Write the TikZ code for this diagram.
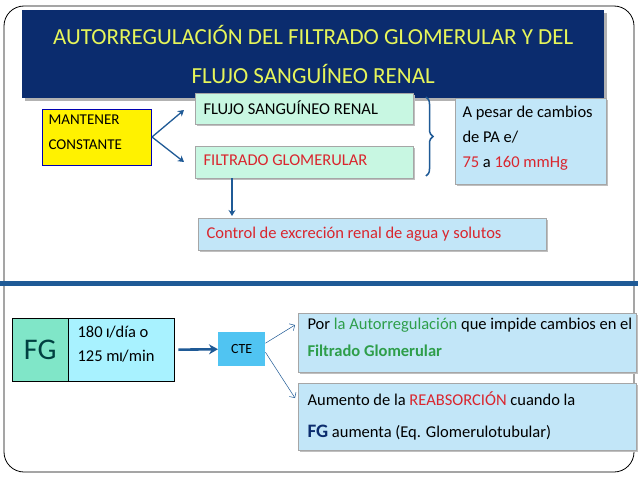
\documentclass[tikz,border=0pt]{standalone}
\usepackage{fontspec}
\setmainfont{Carlito}
\usetikzlibrary{arrows.meta,decorations.pathreplacing}
\definecolor{navy}{HTML}{0B2C6E}
\definecolor{ttl}{HTML}{E6F55A}
\definecolor{lgreen}{HTML}{C8F7E2}
\definecolor{lblue}{HTML}{C2E6F8}
\definecolor{dblue}{HTML}{1F5A96}
\definecolor{rd}{HTML}{D9262E}
\definecolor{gr}{HTML}{2E9E4A}
\definecolor{fgl}{HTML}{80E6C8}
\definecolor{fgr}{HTML}{A8F2FF}
\definecolor{ctec}{HTML}{50C4F2}
\tikzset{
  box/.style={draw=gray!70,anchor=north west,inner sep=0pt},
  arr/.style={-{Stealth[length=6pt,width=7pt]},dblue,line width=1.3pt},
  thin/.style={-{Straight Barb[length=4pt]},dblue,line width=0.5pt},
  txt/.style={anchor=north west,align=left,font=\fontsize{16.5}{#1}\selectfont},
}
\begin{document}
\begin{tikzpicture}[x=1pt,y=-1pt]
\useasboundingbox (0,0) rectangle (638,479);
\fill[white] (0,0) rectangle (638,479);
\draw[black,line width=0.8pt,rounded corners=20pt] (4,6) rectangle (634,472);
\fill[dblue] (0,281) rectangle (638,286);
% title
\fill[gray!60] (25,13) rectangle (607,101);
\node[fill=navy,minimum width=582pt,minimum height=88pt,anchor=north west,inner sep=0pt] (title) at (22,10) {};
\node[text=ttl,font=\fontsize{23}{39}\selectfont,align=center] at (title) {AUTORREGULACIÓN DEL FILTRADO GLOMERULAR Y DEL\\FLUJO SANGUÍNEO RENAL};
% top
\node[box,draw=blue!70!black,line width=0.8pt,fill=yellow,minimum width=109pt,minimum height=56pt] (mc) at (42,109) {};
\node[txt=25,font=\fontsize{15}{25}\selectfont] at (45,111) {MANTENER\\CONSTANTE};
\fill[gray!50] (197,95) rectangle (415,126);
\node[box,fill=lgreen,minimum width=218pt,minimum height=31pt] (fsr) at (195,93) {};
\node[txt=18] at (200,97) {FLUJO SANGUÍNEO RENAL};
\fill[gray!50] (197,148) rectangle (415,180);
\node[box,fill=lgreen,minimum width=218pt,minimum height=32pt] (fg) at (195,146) {};
\node[txt=18,text=rd] at (200,151) {FILTRADO GLOMERULAR};
\draw[dblue,line width=1.5pt,decorate,decoration={brace,amplitude=7pt}] (426,97) -- (426,176);
\fill[gray!50] (457,100) rectangle (608,186);
\node[box,fill=lblue,minimum width=151pt,minimum height=86pt] (ap) at (455,98) {};
\node[txt=25] at (459,103) {A pesar de cambios\\de PA e/\\\textcolor{rd}{75} a \textcolor{rd}{160 mmHg}};
\fill[gray!50] (200,220) rectangle (548,252);
\node[box,fill=lblue,minimum width=348pt,minimum height=32pt] (ce) at (198,218) {};
\node[txt=18,text=rd] at (203,224) {Control de excreción renal de agua y solutos};
\coordinate (mcr) at (152,137);
\draw[arr] (mcr) -- (184,110);
\draw[arr] (mcr) -- (184,162);
\draw[arr] (232,178) -- (232,216);
% bottom
\node[draw=black,fill=fgr,minimum width=106pt,minimum height=63pt,anchor=north west,inner sep=0pt] (val) at (68,318) {};
\node[draw=black,fill=fgl,minimum width=56pt,minimum height=63pt,anchor=north west,inner sep=0pt,text=teal!50!black,font=\fontsize{30}{30}\selectfont] (fgb) at (12,318) {FG};
\node[txt=24] at (74,323) {180 \textbf{\large l}/día o\\125 m\textbf{\large l}/min};
\node[fill=ctec,minimum width=47pt,minimum height=34pt,inner sep=0pt,anchor=north west,font=\fontsize{14}{14}\selectfont] (cte) at (218,332) {CTE};
\draw[-{Stealth[length=9pt,width=10pt]},dblue,line width=2.6pt] (val.east) ++(4,0) -- (cte.west);
\fill[gray!50] (300,315) rectangle (638,374);
\node[box,fill=lblue,minimum width=338pt,minimum height=59pt] (b1) at (298,313) {};
\node[txt=27] at (304,315) {Por \textcolor{gr}{la Autorregulación} que impide cambios en el\\\textcolor{gr}{\textbf{Filtrado Glomerular}}};
\fill[gray!50] (300,385) rectangle (638,452);
\node[box,fill=lblue,minimum width=338pt,minimum height=67pt] (b2) at (298,383) {};
\node[txt=32] at (304,388) {Aumento de la \textcolor{rd}{REABSORCIÓN} cuando la\\ \textcolor{navy}{\textbf{\fontsize{19}{19}\selectfont FG}} aumenta (Eq. Glomerulotubular)};
\draw[thin] (cte.east) ++(0,-6) -- (295,325);
\draw[thin] (cte.east) ++(0,3) -- (295,398);
\end{tikzpicture}
\end{document}
